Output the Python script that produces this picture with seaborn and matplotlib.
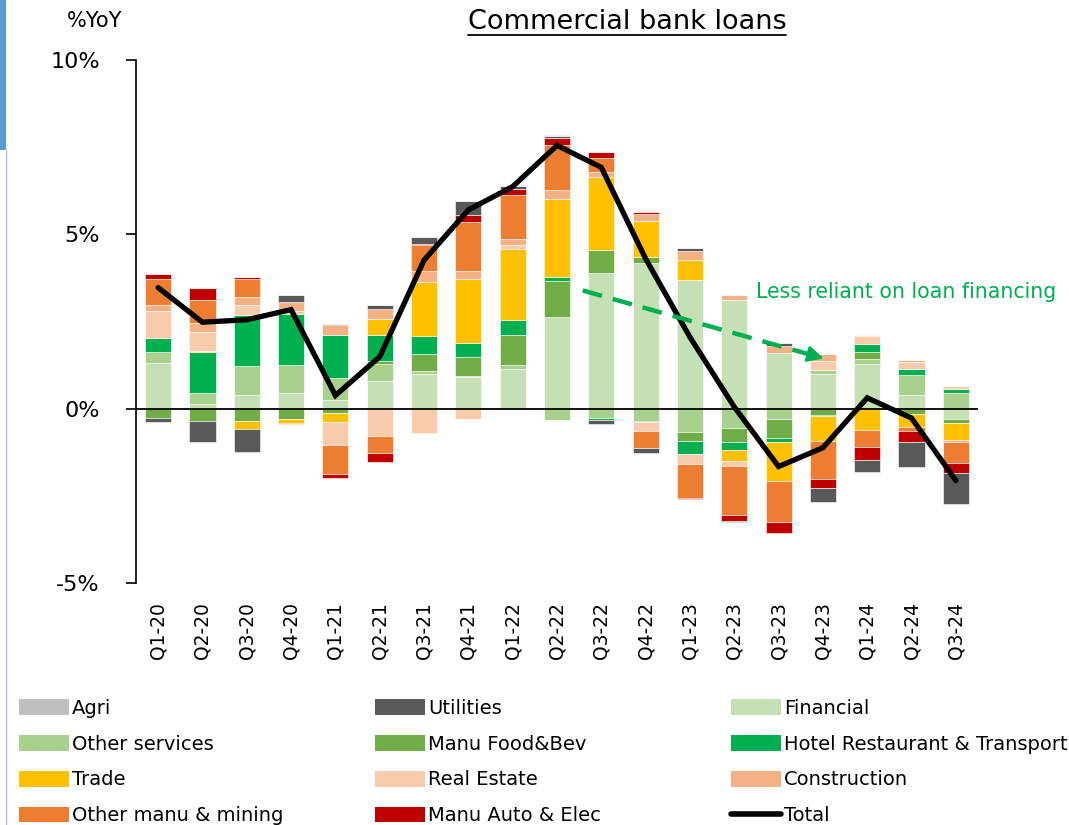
import numpy as np
import pandas as pd
import matplotlib
matplotlib.use("Agg")
import matplotlib.pyplot as plt
from matplotlib.patches import Patch, Rectangle
from matplotlib.lines import Line2D
import seaborn as sns

# ---------------- data ----------------
quarters = ['Q1-20', 'Q2-20', 'Q3-20', 'Q4-20', 'Q1-21', 'Q2-21', 'Q3-21', 'Q4-21',
            'Q1-22', 'Q2-22', 'Q3-22', 'Q4-22', 'Q1-23', 'Q2-23', 'Q3-23', 'Q4-23',
            'Q1-24', 'Q2-24', 'Q3-24']

financial      = [1.30, 0.12, 0.38, 0.44, 0.24, 0.80, 1.00, 0.91, 1.15, 2.62, 3.88, 4.19, 3.70, 3.13, 1.61, 0.98, 1.29, 0.40, -0.29]
other_services = [0.32, 0.34, 0.83, 0.80, 0.63, 0.48, 0.08, 0.03, 0.09, -0.32, -0.26, -0.36, -0.68, -0.55, -0.31, 0.14, 0.14, 0.57, 0.46]
food_bev       = [-0.28, -0.34, -0.36, -0.31, -0.13, 0.10, 0.50, 0.55, 0.88, 1.03, 0.68, 0.15, -0.26, -0.42, -0.54, -0.19, 0.19, -0.16, -0.11]
hotel          = [0.42, 1.16, 1.49, 1.47, 1.23, 0.72, 0.50, 0.38, 0.42, 0.14, -0.06, -0.03, -0.36, -0.22, -0.10, -0.03, 0.23, 0.17, 0.09]
trade          = [0.00, 0.02, -0.22, -0.10, -0.25, 0.47, 1.56, 1.84, 2.04, 2.22, 2.09, 1.05, 0.55, -0.31, -1.12, -0.70, -0.62, -0.38, -0.51]
real_estate    = [0.76, 0.57, 0.26, 0.08, -0.66, -0.77, -0.69, -0.29, 0.10, 0.00, 0.00, -0.26, -0.30, -0.14, 0.00, 0.26, 0.23, 0.19, 0.11]
construction   = [0.17, 0.24, 0.25, 0.26, 0.29, 0.28, 0.30, 0.24, 0.20, 0.27, 0.14, 0.19, 0.28, 0.14, 0.19, 0.19, 0.04, 0.07, -0.04]
other_manu     = [0.75, 0.67, 0.50, -0.04, -0.84, -0.49, 0.75, 1.41, 1.24, 1.28, 0.41, -0.48, -0.97, -1.41, -1.18, -1.09, -0.48, -0.09, -0.60]
manu_auto      = [0.14, 0.33, 0.08, 0.00, -0.12, -0.27, 0.03, 0.19, 0.17, 0.19, 0.17, 0.07, -0.03, -0.17, -0.31, -0.27, -0.36, -0.33, -0.29]
utilities      = [-0.10, -0.62, -0.65, 0.20, 0.03, 0.12, 0.19, 0.42, 0.10, 0.06, -0.13, -0.15, 0.07, -0.04, 0.07, -0.40, -0.37, -0.70, -0.89]
agri           = [0.00, 0.00, 0.00, 0.00, 0.00, 0.00, 0.00, 0.00, 0.00, 0.03, 0.00, 0.00, 0.00, 0.00, 0.00, 0.00, 0.00, 0.00, 0.00]
total          = [3.47, 2.48, 2.55, 2.84, 0.38, 1.49, 4.26, 5.70, 6.37, 7.55, 6.92, 4.30, 2.05, 0.05, -1.66, -1.12, 0.31, -0.27, -2.06]

y_ticks = [-5, 0, 5, 10]
y_tick_labels = ['-5%', '0%', '5%', '10%']

# stacking order (bottom -> top), with colours
series = [
    ('Financial', financial, '#C5E0B4'),
    ('Other services', other_services, '#A9D18E'),
    ('Manu Food&Bev', food_bev, '#70AD47'),
    ('Hotel Restaurant & Transport', hotel, '#00B050'),
    ('Trade', trade, '#FFC000'),
    ('Real Estate', real_estate, '#F8CBAD'),
    ('Construction', construction, '#F4B183'),
    ('Other manu & mining', other_manu, '#ED7D31'),
    ('Manu Auto & Elec', manu_auto, '#C00000'),
    ('Utilities', utilities, '#595959'),
    ('Agri', agri, '#BFBFBF'),
]
colors = {name: c for name, _, c in series}

# ---------------- figure ----------------
sns.set_theme(style="white")
plt.rcParams['font.family'] = ['DejaVu Sans']
plt.rcParams['text.color'] = 'black'
plt.rcParams['xtick.color'] = 'black'
plt.rcParams['ytick.color'] = 'black'
plt.rcParams['axes.labelcolor'] = 'black'

W, H = 1069, 825
fig = plt.figure(figsize=(W / 100, H / 100), dpi=100)
ax = fig.add_axes([136 / W, 1 - 583 / H, (978 - 136) / W, (583 - 60) / H])

pos_bottom = np.zeros(len(quarters))
neg_bottom = np.zeros(len(quarters))
for name, vals, col in series:
    v = np.array(vals, dtype=float)
    bottom = np.where(v >= 0, pos_bottom, neg_bottom)
    df = pd.DataFrame({'q': quarters, 'v': v})
    sns.barplot(data=df, x='q', y='v', order=quarters, color=col, saturation=1,
                errorbar=None, width=0.59, bottom=bottom, ax=ax,
                edgecolor='white', linewidth=0.4)
    pos_bottom = pos_bottom + np.where(v >= 0, v, 0)
    neg_bottom = neg_bottom + np.where(v < 0, v, 0)

sns.lineplot(x=np.arange(len(quarters)), y=total, color='black', lw=3.8, ax=ax,
             solid_joinstyle='miter', zorder=5)

ax.axhline(0, color='black', lw=1.3, zorder=4)

ax.set_xlim(-0.5, len(quarters) - 0.5)
ax.set_ylim(-5, 10)
ax.set_xlabel('')
ax.set_ylabel('')
ax.set_yticks(y_ticks)
ax.set_yticklabels(y_tick_labels, fontsize=16, color='black')
ax.set_xticks(np.arange(len(quarters)))
ax.set_xticklabels(quarters, rotation=90, fontsize=13.5, color='black')
ax.tick_params(axis='x', length=0, pad=14, labelcolor='black')
ax.tick_params(axis='y', direction='out', length=7, width=1.2, pad=19, left=True,
               colors='black', labelcolor='black')
for s in ['top', 'right', 'bottom']:
    ax.spines[s].set_visible(False)
ax.spines['left'].set_color('black')
ax.spines['left'].set_linewidth(1.2)
ax.grid(False)

# annotation arrow (dashed green)
green = '#00B050'
x0, y0, x1, y1 = 9.58, 3.39, 15.02, 1.44
frac = 0.93
xm, ym = x0 + (x1 - x0) * frac, y0 + (y1 - y0) * frac
ax.plot([x0, xm], [y0, ym], color=green, lw=3.2, dashes=(4.5, 2.5), zorder=6)
ax.annotate('', xy=(x1, y1), xytext=(xm - (x1 - x0) * 0.02, ym - (y1 - y0) * 0.02),
            arrowprops=dict(arrowstyle='-|>', color=green, lw=2, mutation_scale=24,
                            shrinkA=0, shrinkB=0), zorder=6)
ax.text(13.48, 3.36, 'Less reliant on loan financing', color=green, fontsize=14.8,
        va='center', ha='left')

# titles
t = fig.text(627 / W, 1 - 22 / H, 'Commercial bank loans', ha='center', va='center',
             fontsize=19.5, color='black')
fig.text(95 / W, 1 - 21 / H, '%YoY', ha='center', va='center', fontsize=15, color='black')

# legend: three columns, row-wise order
cols = [
    ['Agri', 'Other services', 'Trade', 'Other manu & mining'],
    ['Utilities', 'Manu Food&Bev', 'Real Estate', 'Manu Auto & Elec'],
    ['Financial', 'Hotel Restaurant & Transport', 'Construction', 'Total'],
]
col_x = [19, 375, 731]
for cx, names in zip(col_x, cols):
    handles = []
    for n in names:
        if n == 'Total':
            handles.append(Line2D([0], [0], color='black', lw=4))
        else:
            handles.append(Patch(facecolor=colors[n], edgecolor='none'))
    fig.legend(handles, names, loc='upper left', bbox_to_anchor=(cx / W, 1 - 699 / H),
               frameon=False, fontsize=14, handlelength=2.55, handleheight=0.88,
               handletextpad=0.18, labelspacing=0.86, borderpad=0, borderaxespad=0,
               labelcolor='black')

# left border artefacts
fig.patches.append(Rectangle((0, 1 - 150 / H), 6 / W, 150 / H, transform=fig.transFigure,
                             facecolor='#5B9BD5', edgecolor='none'))
fig.lines.append(Line2D([6 / W, 6 / W], [0, 1 - 150 / H], transform=fig.transFigure,
                        color='#9DC3E6', lw=1))

# underline title
fig.canvas.draw()
bb = t.get_window_extent(fig.canvas.get_renderer())
fig.lines.append(Line2D([bb.x0 / W, bb.x1 / W], [1 - 35 / H, 1 - 35 / H],
                        transform=fig.transFigure, color='black', lw=1.3))

fig.savefig('out.png', dpi=100)
